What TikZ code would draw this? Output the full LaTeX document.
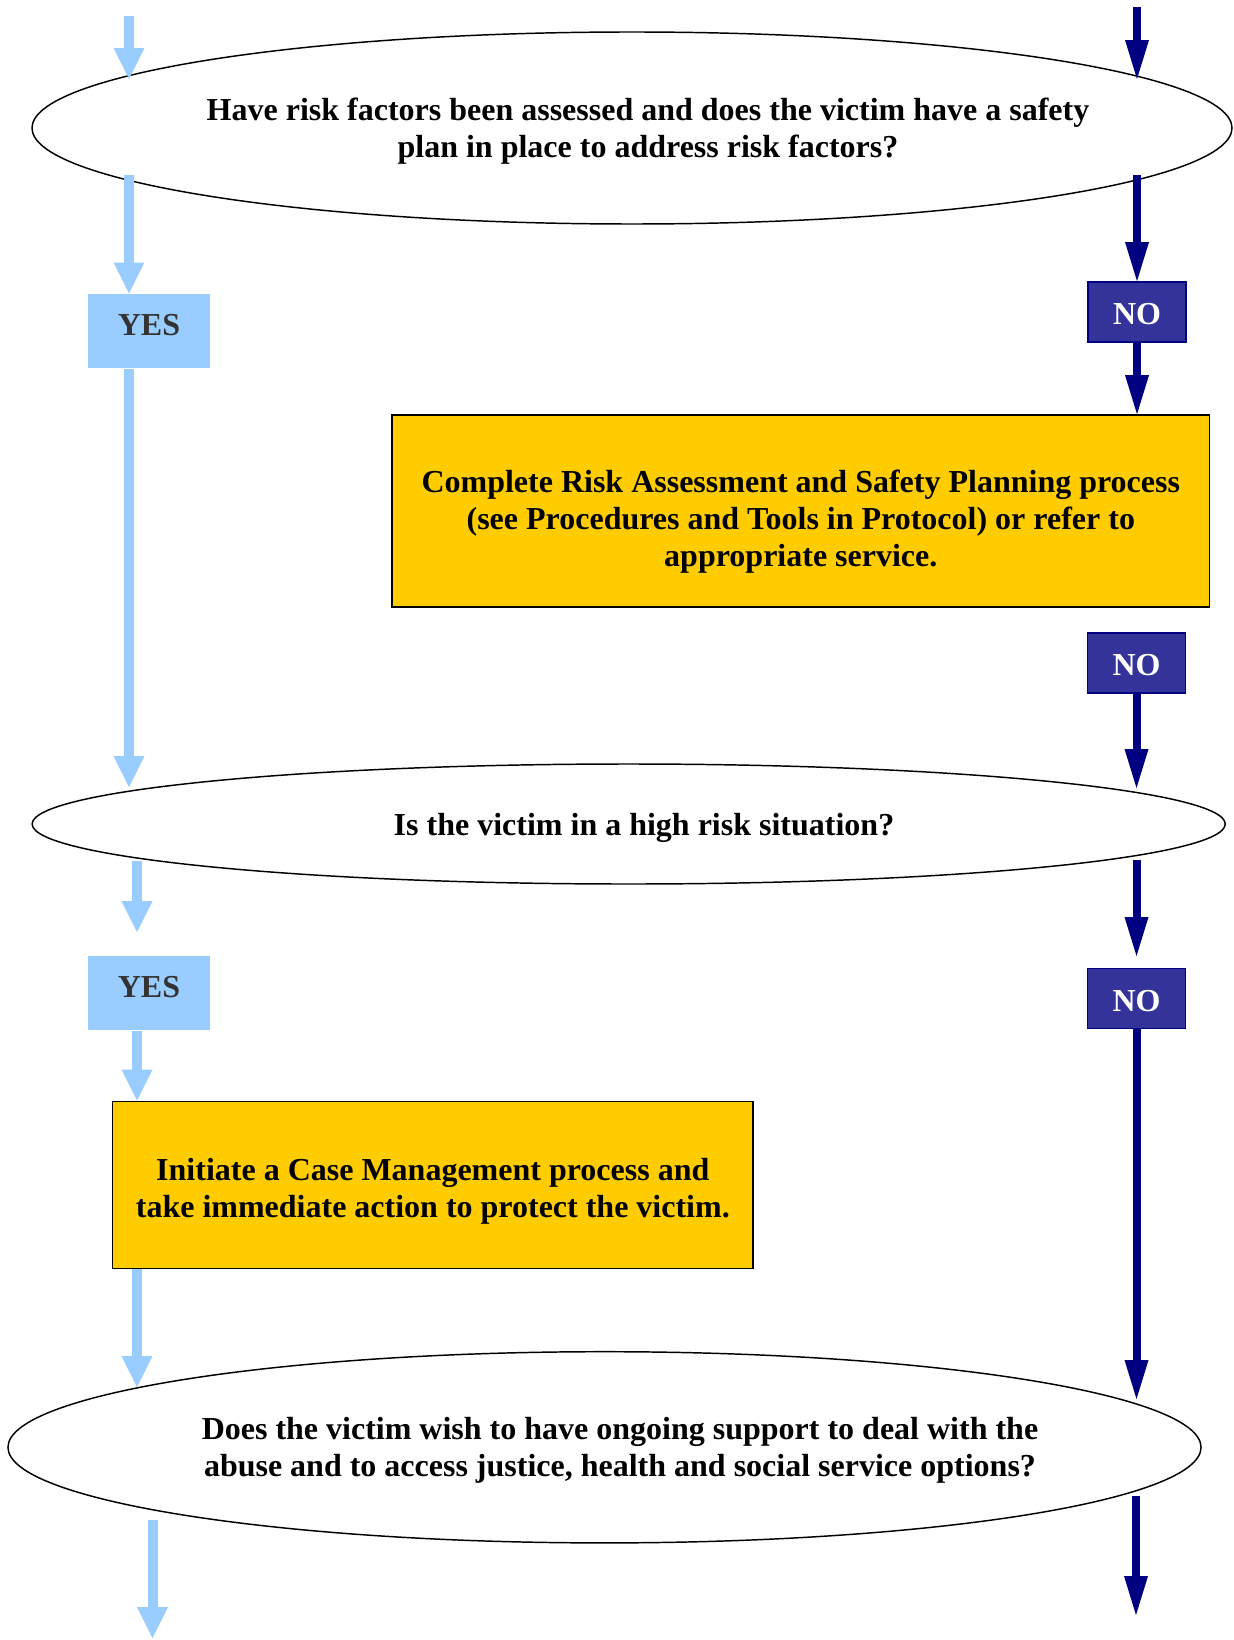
\documentclass[tikz,border=0pt]{standalone}
\usepackage{fontspec}
\setmainfont{Liberation Serif}
\usetikzlibrary{arrows.meta,shapes.geometric}
\definecolor{lblue}{HTML}{99CCFF}
\definecolor{dnavy}{HTML}{000080}
\definecolor{nofill}{HTML}{333399}
\definecolor{ybox}{HTML}{FFCC00}
\definecolor{yestxt}{HTML}{333333}
\begin{document}
\begin{tikzpicture}[x=0.375pt,y=-0.375pt,
  every node/.style={font=\fontsize{12}{14}\selectfont\bfseries},
  question/.style={draw=black,line width=0.55pt,ellipse,inner sep=0pt,fill=white},
  qtext/.style={align=center,inner sep=0pt},
  yesbox/.style={fill=lblue,text=yestxt,minimum width=45.75pt,minimum height=27.75pt,inner sep=0pt,text height=8pt,text depth=4.5pt},
  nobox/.style={fill=nofill,draw=dnavy,line width=0.7pt,text=white,minimum width=36.75pt,minimum height=22.5pt,inner sep=0pt,text height=9.6pt,text depth=0pt},
  actbox/.style={fill=ybox,draw=black,line width=0.65pt,inner sep=0pt},
  yesarrow/.style={draw=lblue,line width=3.75pt,-{Triangle[length=11.6pt,width=11.6pt,line width=0pt]}},
  noarrow/.style={draw=dnavy,line width=3pt,-{Triangle[length=14.6pt,width=9pt,line width=0pt]}}
]
\useasboundingbox (0,0) rectangle (1233,1640);

% questions
\node[question,minimum width=450pt,minimum height=72pt] (e1) at (632,128) {};
\node[qtext] (q1) at (648,131) {Have risk factors been assessed and does the victim have a safety\\plan in place to address risk factors?};
\node[question,minimum width=447.4pt,minimum height=45pt] (e2) at (628.7,824) {};
\node[qtext] (q2) at (644,828) {Is the victim in a high risk situation?};
\node[question,minimum width=447.4pt,minimum height=71.7pt] (e3) at (604.5,1447.3) {};
\node[qtext] (q3) at (620,1450) {Does the victim wish to have ongoing support to deal with the\\abuse and to access justice, health and social service options?};

% answer boxes
\node[yesbox] (yes1) at (149,331) {YES};
\node[yesbox] (yes2) at (149,993) {YES};
\node[nobox] (no1) at (1137,312) {NO};
\node[nobox] (no2) at (1136.5,663) {NO};
\node[nobox] (no3) at (1136.5,998.5) {NO};

% action boxes
\node[actbox,minimum width=306.6pt,minimum height=72pt] (act1) at (800.8,511) {};
\node[qtext] (t1) at (800.8,521.5) {Complete Risk Assessment and Safety Planning process\\(see Procedures and Tools in Protocol) or refer to\\appropriate service.};
\node[actbox,minimum width=240.2pt,minimum height=62.6pt] (act2) at (432.8,1185) {};
\node[qtext] (t2) at (432.8,1191) {Initiate a Case Management process and\\take immediate action to protect the victim.};

% free ends
\coordinate (l1s) at (129,16);
\coordinate (l1e) at (129,79);
\coordinate (l2s) at (129,175);
\coordinate (l3e) at (129,787);
\coordinate (l4s) at (137,861);
\coordinate (l4e) at (137,932);
\coordinate (l6e) at (137,1387);
\coordinate (l7s) at (152.5,1520);
\coordinate (l7e) at (152.5,1638);
\coordinate (r1s) at (1137,7);
\coordinate (r1e) at (1137,79);
\coordinate (r2s) at (1137,175);
\coordinate (r4e) at (1136.5,788);
\coordinate (r5s) at (1136.5,860);
\coordinate (r5e) at (1136.5,956);
\coordinate (r6e) at (1136.5,1399);
\coordinate (r7s) at (1136,1496);
\coordinate (r7e) at (1136,1615);

% yes connectors
\draw[yesarrow] (l1s) -- (l1e);
\draw[yesarrow] (l2s) -- (l2s |- yes1.north);
\draw[yesarrow] (l2s |- yes1.south) -- (l3e);
\draw[yesarrow] (l4s) -- (l4e);
\draw[yesarrow] (l4s |- yes2.south) -- (l4s |- act2.north);
\draw[yesarrow] (l4s |- act2.south) -- (l6e);
\draw[yesarrow] (l7s) -- (l7e);

% no connectors
\draw[noarrow] (r1s) -- (r1e);
\draw[noarrow] (r2s) -- (no1.north);
\draw[noarrow] (no1.south) -- (no1.south |- act1.north);
\draw[noarrow] (no2.south) -- (r4e);
\draw[noarrow] (r5s) -- (r5e);
\draw[noarrow] (no3.south) -- (r6e);
\draw[noarrow] (r7s) -- (r7e);
\end{tikzpicture}
\end{document}
